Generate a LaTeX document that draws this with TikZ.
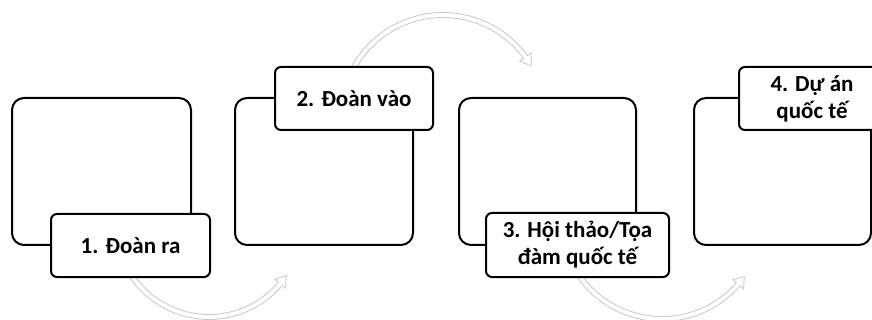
\documentclass[tikz,border=0pt]{standalone}
\usepackage{fontspec}
\setmainfont{Carlito}
\usetikzlibrary{calc}
\begin{document}
\begin{tikzpicture}[x=1pt,y=-1pt,
  bigbox/.style={draw=black, line width=2pt, rounded corners=12pt, fill=white, inner sep=0pt, outer sep=0pt},
  labelbox/.style={draw=black, line width=2pt, rounded corners=6pt, fill=white, inner sep=0pt, outer sep=0pt,
    font=\fontsize{23}{27}\selectfont\bfseries, align=center},
  arcarrow/.style={draw=black!22, line width=0.8pt, fill=white}]
\path[use as bounding box, fill=white] (0,0) rectangle (872,320);

% block arc arrows (drawn first, labels cover their tails)
\coordinate (c1) at (209,224);
\coordinate (c2) at (443,117);
\coordinate (c3) at (662,218);
\draw[arcarrow] ($(c1)+(150:95.5)$) arc[start angle=150, end angle=40, radius=95.5]
  -- ($(c1)+(40:100)$) -- ($(c1)+(33.7:93)$) -- ($(c1)+(40:86)$) -- ($(c1)+(40:90.5)$)
  arc[start angle=40, end angle=150, radius=90.5] -- cycle;
\draw[arcarrow] ($(c2)+(205:104.5)$) arc[start angle=205, end angle=324, radius=104.5]
  -- ($(c2)+(324:109)$) -- ($(c2)+(330:102)$) -- ($(c2)+(324:95)$) -- ($(c2)+(324:99.5)$)
  arc[start angle=324, end angle=205, radius=99.5] -- cycle;
\draw[arcarrow] ($(c3)+(150:103.5)$) arc[start angle=150, end angle=41, radius=103.5]
  -- ($(c3)+(41:108)$) -- ($(c3)+(35.4:101)$) -- ($(c3)+(41:94)$) -- ($(c3)+(41:98.5)$)
  arc[start angle=41, end angle=150, radius=98.5] -- cycle;

% large boxes
\node[bigbox, minimum width=179pt, minimum height=147pt] (b1) at (101.5,171.5) {};
\node[bigbox, minimum width=178pt, minimum height=147pt] (b2) at (324,171.5) {};
\node[bigbox, minimum width=177pt, minimum height=147pt] (b3) at (547.5,171.5) {};
\node[bigbox, minimum width=177pt, minimum height=147pt] (b4) at (782.5,171.5) {};

% labels
\node[labelbox, minimum width=159pt, minimum height=63pt] (l1) at (130.5,245.5) {1. Đoàn ra};
\node[labelbox, minimum width=158pt, minimum height=63pt] (l2) at (354,98.5) {2. Đoàn vào};
\node[labelbox, minimum width=183pt, minimum height=64pt] (l3) at (577.5,245) {3. Hội thảo/Tọa\\đàm quốc tế};
\node[labelbox, minimum width=146pt, minimum height=63pt] (l4) at (812,98.5) {4. Dự án\\quốc tế};
\end{tikzpicture}
\end{document}
